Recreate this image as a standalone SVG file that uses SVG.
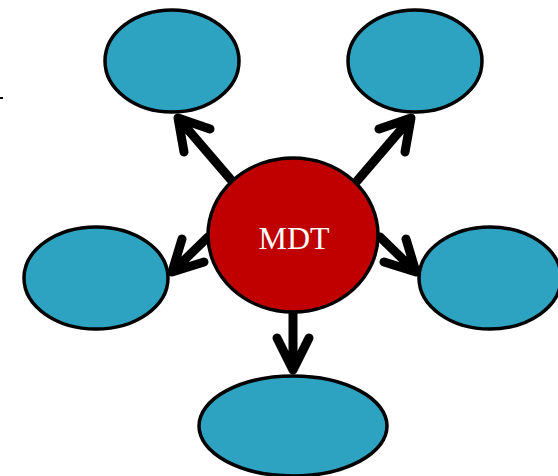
<svg xmlns="http://www.w3.org/2000/svg" width="558" height="476" viewBox="0 0 558 476">
<style>
.n{fill:#2EA3C1;stroke:#000;stroke-width:3.5}
.c{fill:#C00000;stroke:#000;stroke-width:3.5}
.e{fill:none;stroke:#000;stroke-width:9;stroke-linecap:round;stroke-linejoin:round}
.t{font-family:"Liberation Serif","DejaVu Serif",serif;font-size:32px;fill:#fff}
</style>
<rect width="558" height="476" fill="#fff"/>
<line x1="0" y1="98" x2="3" y2="98" stroke="#000" stroke-width="2"/>
<g id="connectors">
<path class="e" d="M232,181 L178,118 M184,152 L178,118 L210,129"/>
<path class="e" d="M357,181 L411,118 M405,152 L411,118 L379,129"/>
<path class="e" d="M208,237 L172,272 M182,239 L172,272 L204,262"/>
<path class="e" d="M380,237 L416,272 M406,239 L416,272 L384,262"/>
<path class="e" d="M293,312 L293,370 M277,338 L293,370 L309,338"/>
</g>
<g id="n-tl"><ellipse class="n" cx="172" cy="61" rx="67" ry="51"/></g>
<g id="n-tr"><ellipse class="n" cx="415" cy="61" rx="67" ry="51"/></g>
<g id="n-l"><ellipse class="n" cx="96" cy="278" rx="72" ry="51"/></g>
<g id="n-r"><ellipse class="n" cx="490" cy="278" rx="71" ry="51"/></g>
<g id="n-b"><ellipse class="n" cx="293" cy="426" rx="94" ry="50"/></g>
<g id="mdt"><ellipse class="c" cx="293" cy="235" rx="85" ry="77"/><text class="t" x="294" y="249" text-anchor="middle">MDT</text></g>
</svg>
